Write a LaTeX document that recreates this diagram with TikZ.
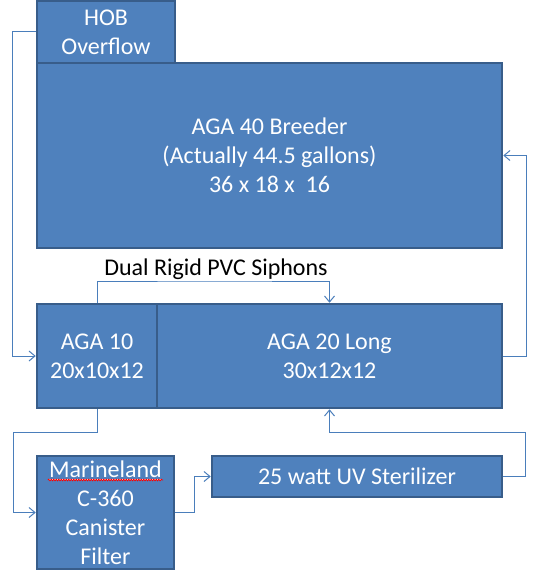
\documentclass[tikz,border=0pt]{standalone}
\usepackage{fontspec}
\setmainfont{Carlito}
\usepackage{xcolor}
\usepackage{tikz}
\usetikzlibrary{arrows.meta,positioning,calc,decorations.pathmorphing}
\definecolor{tankfill}{HTML}{4F81BD}
\definecolor{tankline}{HTML}{385D8A}
\definecolor{pipeblue}{HTML}{4A7EBB}

\begin{document}
\begin{tikzpicture}[x=1pt, y=-1pt, >={Straight Barb[length=6pt,width=10pt]},
    tank/.style={draw=tankline, fill=tankfill, line width=2.5pt, text=white,
        inner sep=0pt, align=center, font=\fontsize{24}{29}\selectfont},
    pipe/.style={draw=pipeblue, line width=1pt}]
    \useasboundingbox (0,0) rectangle (540,585);

    % tanks
    \node[tank, minimum width=138pt, minimum height=62pt] (hob) at (106,32)
        {HOB\\Overflow};
    \node[tank, minimum width=465pt, minimum height=185pt] (breeder) at (269.5,155.5)
        {AGA 40 Breeder\\(Actually 44.5 gallons)\\36 x 18 x \ 16};
    \node[tank, minimum width=120pt, minimum height=104pt] (aga10) at (97,356)
        {AGA 10\\20x10x12};
    \node[tank, minimum width=345pt, minimum height=104pt] (aga20) at (329.5,356)
        {AGA 20 Long\\30x12x12};
    \node[tank, minimum width=137pt, minimum height=113pt] (filter) at (105.5,512.5)
        {\underline{Marineland}\\C-360\\Canister\\Filter};
    \node[tank, minimum width=290pt, minimum height=41pt] (uv) at (357,476.5)
        {25 watt UV Sterilizer};

    % spell-check mark
    \draw[red, line width=0.8pt, decorate,
        decoration={snake, amplitude=0.8pt, segment length=2.5pt}]
        (48,480) -- (163,480);

    % plumbing
    \coordinate (siphon) at (216,281);
    \coordinate (leftrun) at (13.3,432.5);
    \coordinate (rightrun) at (525,432.5);

    \draw[pipe, ->] (hob.west) -- ++(-23.7,0) |- (aga10.west);
    \draw[pipe, ->] (aga10.north) |- (siphon) -| (aga20.north);
    \node[above=1pt, inner sep=0pt, font=\fontsize{24}{29}\selectfont] (siphonlabel)
        at (siphon) {Dual Rigid PVC Siphons};
    \draw[pipe, ->] (aga20.east) -- ++(23,0) |- (breeder.east);
    \draw[pipe, ->] (aga10.south) |- (leftrun) |- (filter.west);
    \draw[pipe, ->] (filter.east) -- ++(19,0) |- (uv.west);
    \draw[pipe, ->] (uv.east) -| (rightrun) -| (aga20.south);
\end{tikzpicture}
\end{document}
